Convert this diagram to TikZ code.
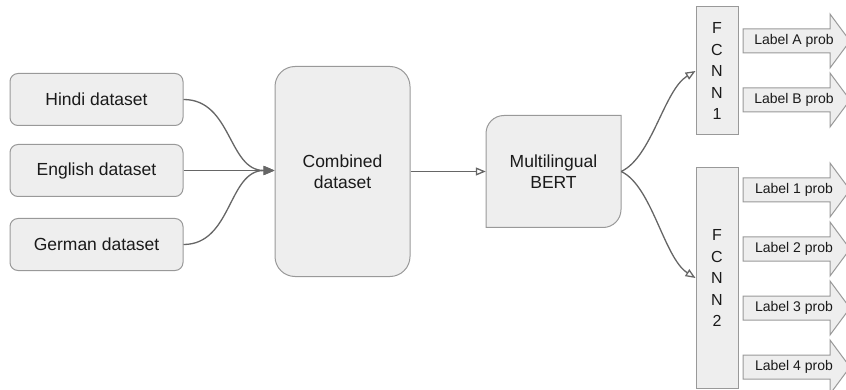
\documentclass[tikz,border=0pt]{standalone}
\usepackage{fontspec}
\setmainfont{Liberation Sans}
\usetikzlibrary{arrows.meta}
\definecolor{boxfill}{HTML}{EEEEEE}
\definecolor{boxline}{HTML}{999999}
\definecolor{conn}{HTML}{666666}
\definecolor{txt}{HTML}{1A1A1A}
\begin{document}
\begin{tikzpicture}[x=1pt,y=-1pt,
  box/.style={draw=boxline, fill=boxfill, line width=1pt, text=txt, align=center, inner sep=0pt},
  srcbox/.style={box, rounded corners=8pt, minimum width=173pt, minimum height=52pt, font=\fontsize{17.5}{21.5}\selectfont},
  bigbox/.style={box, rounded corners=20pt, minimum width=135pt, minimum height=210pt, font=\fontsize{17.5}{21.5}\selectfont},
  plainbox/.style={text=txt, align=center, inner sep=0pt, minimum width=135pt, minimum height=112pt, font=\fontsize{17.5}{21.5}\selectfont},
  fcbox/.style={box, minimum width=42pt, font=\fontsize{16}{21.5}\selectfont},
  conline/.style={draw=conn, line width=1.3pt},
  filledtip/.style={-{Triangle[length=11pt,width=9pt]}},
  opentip/.style={-{Triangle[open,length=10pt,width=8pt,fill=white]}},
  blockarrow/.style={draw=boxline, fill=boxfill, line width=1pt},
  lbl/.style={text=txt, inner sep=0pt, font=\fontsize{14}{16}\selectfont}
]
\useasboundingbox (0,0) rectangle (846,390);
\clip (0,0) rectangle (846,390);

% source boxes
\node[srcbox] (hindi) at (96.5,99.5) {Hindi dataset};
\node[srcbox] (english) at (96.5,170.5) {English dataset};
\node[srcbox] (german) at (96.5,244.5) {German dataset};

% combined
\node[bigbox] (comb) at (342.5,171.5) {Combined\\dataset};

% BERT
\node[plainbox] (bert) at (553.5,171.5) {};
\path[blockarrow] (486,227.5) -- (486,133.5) .. controls (486,123.6) and (493.9,115.5) .. (504,115.5)
  -- (621,115.5) -- (621,209.5) .. controls (621,219.4) and (613.1,227.5) .. (603,227.5) -- cycle;
\node[plainbox] (bertlabel) at (553.5,171.5) {Multilingual\\BERT};

% FCNN boxes
\node[fcbox, minimum height=128pt] (f1) at (717,71) {F\\C\\N\\N\\1};
\node[fcbox, minimum height=220pt] (f2) at (717,278) {F\\C\\N\\N\\2};

% connectors
\draw[conline, filledtip] (hindi.east) .. controls (232,99.5) and (228,170.5) .. (comb.west |- english.east);
\draw[conline, filledtip] (english.east) -- (comb.west |- english.east);
\draw[conline, filledtip] (german.east) .. controls (232,244.5) and (228,170.5) .. (comb.west |- english.east);
\draw[conline, opentip] (comb.east) -- (bert.west);
\draw[conline, opentip] (bert.east) .. controls (652,157) and (664,90) .. (f1.west);
\draw[conline, opentip] (bert.east) .. controls (652,186) and (664,258) .. (f2.west);

% output block arrows
\foreach \n/\y/\t in {A/41/Label A prob, B/100/Label B prob, 1/190/Label 1 prob, 2/249/Label 2 prob, 3/308/Label 3 prob, 4/367/Label 4 prob}{
  \path[blockarrow] (743,\y-12) -- (830,\y-12) -- (830,\y-27) -- (850,\y) -- (830,\y+27) -- (830,\y+12) -- (743,\y+12) -- cycle;
  \node[lbl] (out\n) at (794,\y) {\t};
}
\end{tikzpicture}
\end{document}
